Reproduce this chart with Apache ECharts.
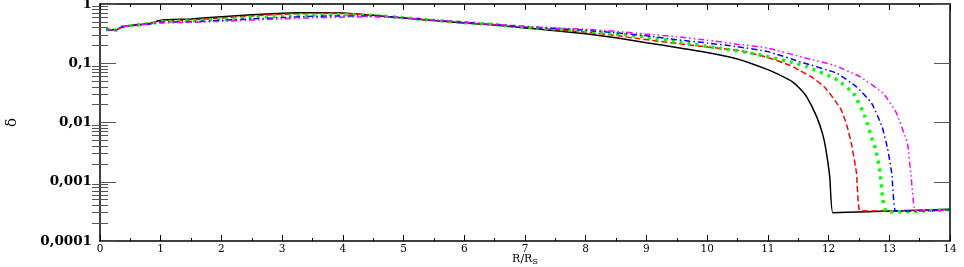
<!DOCTYPE html>
<html>
<head>
<meta charset="utf-8">
<script src="https://cdn.jsdelivr.net/npm/echarts@6/dist/echarts.min.js"></script>
<style>
  html, body { margin: 0; padding: 0; background: #fff; }
  #chart { width: 964px; height: 267px; }
</style>
</head>
<body>
<div id="chart"></div>
<script>
// delta vs R/Rs, five curves, log y axis
const blackX = [0.1,0.27,0.36,0.5,0.82,1.0,1.5,2,2.5,3,3.5,4,4.5,5,5.5,6,6.5,7,7.5,8,8.5,9,9.5,10,10.5,11,11.2,11.4,11.53,11.64,11.8,11.9,11.95,12.02,12.07,12.3,13,14];
const blackY = [0.37,0.365,0.41,0.43,0.47,0.53,0.56,0.61,0.66,0.70,0.715,0.705,0.645,0.58,0.525,0.48,0.44,0.395,0.355,0.315,0.27,0.222,0.185,0.152,0.118,0.078,0.063,0.049,0.037,0.027,0.0128,0.0065,0.0038,0.0012,0.0003,0.000305,0.00032,0.000345];

const redX = [0.1,0.27,0.36,0.5,0.82,1.0,1.5,2,2.5,3,3.5,4,4.5,5,5.5,6,6.5,7,7.5,8,8.5,8.89,9.72,10.54,11.0,11.37,11.53,11.75,11.95,12.2,12.3,12.38,12.46,12.51,12.7,13,14];
const redY = [0.37,0.365,0.41,0.43,0.47,0.51,0.54,0.58,0.63,0.67,0.69,0.69,0.645,0.58,0.525,0.48,0.445,0.40,0.37,0.335,0.295,0.258,0.203,0.163,0.125,0.092,0.075,0.056,0.038,0.017,0.009,0.0042,0.0014,0.00033,0.00032,0.00032,0.00034];

const greenX = [0.1,0.27,0.36,0.5,0.82,1.0,1.5,2,2.5,3,3.5,4,4.5,5,5.5,6,6.5,7,7.5,8,8.5,8.95,9.55,10.21,10.82,11.42,11.64,12.12,12.41,12.6,12.71,12.78,12.85,12.89,12.95,13.1,13.5,14];
const greenY = [0.37,0.365,0.41,0.43,0.47,0.50,0.52,0.55,0.59,0.62,0.65,0.66,0.64,0.585,0.53,0.485,0.45,0.405,0.38,0.35,0.315,0.281,0.226,0.179,0.142,0.102,0.0875,0.054,0.031,0.0125,0.0055,0.0034,0.0014,0.00053,0.00031,0.00031,0.00032,0.00034];

const blueX = [0.1,0.27,0.36,0.5,0.82,1.0,1.5,2,2.5,3,3.5,4,4.5,5,5.5,6,6.5,7,7.5,8,8.5,9,9.5,10,10.5,11,11.58,12.13,12.46,12.71,12.88,12.97,13.04,13.1,13.25,13.5,14];
const blueY = [0.37,0.365,0.41,0.43,0.46,0.49,0.50,0.53,0.56,0.59,0.62,0.63,0.63,0.585,0.53,0.49,0.45,0.41,0.385,0.36,0.325,0.29,0.25,0.22,0.19,0.157,0.102,0.068,0.040,0.021,0.0085,0.0037,0.0014,0.00032,0.00032,0.00032,0.00034];

const magentaX = [0.1,0.27,0.36,0.5,0.82,1.0,1.5,2,2.5,3,3.5,4,4.5,5,5.5,6,6.5,7,7.5,8,8.5,9,9.5,10,10.5,11,11.64,12.08,12.52,12.9,13.12,13.26,13.3,13.36,13.42,13.55,13.7,14];
const magentaY = [0.37,0.365,0.41,0.43,0.46,0.48,0.49,0.51,0.535,0.56,0.585,0.60,0.61,0.585,0.535,0.495,0.455,0.42,0.395,0.375,0.345,0.31,0.28,0.245,0.21,0.18,0.121,0.093,0.059,0.031,0.0143,0.0058,0.0045,0.0012,0.00033,0.00032,0.00032,0.00034];

const yMajor = [0.0001, 0.001, 0.01, 0.1, 1];
const yMinor = [];
for (let d = 0; d < 4; d++) {
    for (let k = 2; k <= 9; k++) yMinor.push(+(k * yMajor[d]).toPrecision(2));
}

function pairs(xs, ys) {
    return xs.map((x, i) => [x, ys[i]]);
}

function initChart() {
    const chart = echarts.init(document.getElementById('chart'));
    const serif = 'DejaVu Serif';

    const yBase = {
        type: 'log',
        min: 0.0001,
        max: 1,
        logBase: 10,
        splitLine: { show: false },
        axisLine: { show: false }
    };

    function lineSeries(name, xs, ys, color, width, dash) {
        return {
            name: name,
            type: 'line',
            data: pairs(xs, ys),
            showSymbol: false,
            smooth: 0.15,
            lineStyle: { color: color, width: width, type: dash },
            z: 3
        };
    }

    const option = {
        animation: false,
        grid: { left: 100, right: 14, top: 4, bottom: 26, outerBoundsMode: 'none', containLabel: false },
        xAxis: [
            {
                type: 'value',
                min: 0,
                max: 14,
                interval: 1,
                name: '{a|R/R}{b|S}',
                nameLocation: 'middle',
                nameGap: 11,
                nameMoveOverlap: false,
                nameTextStyle: {
                    verticalAlign: 'top',
                    rich: {
                        a: { fontFamily: serif, fontSize: 11, color: '#000' },
                        b: { fontFamily: serif, fontSize: 8, color: '#000', padding: [6, 0, 0, 0] }
                    }
                },
                axisLine: { show: true, onZero: false, lineStyle: { color: '#000', width: 1.5 } },
                axisTick: { inside: true, length: 6, lineStyle: { color: '#000', width: 1 } },
                minorTick: { show: true, splitNumber: 2, length: 3, lineStyle: { color: '#000', width: 1 } },
                axisLabel: { fontFamily: serif, fontSize: 10.5, color: '#000', margin: 3 },
                splitLine: { show: false }
            },
            {
                type: 'value',
                position: 'top',
                min: 0,
                max: 14,
                interval: 1,
                axisLine: { show: true, onZero: false, lineStyle: { color: '#000', width: 1.5 } },
                axisTick: { inside: true, length: 6, lineStyle: { color: '#000', width: 1 } },
                minorTick: { show: true, splitNumber: 2, length: 3, lineStyle: { color: '#000', width: 1 } },
                axisLabel: { show: false },
                splitLine: { show: false }
            }
        ],
        yAxis: [
            Object.assign({}, yBase, {
                position: 'left',
                name: 'δ',
                nameLocation: 'middle',
                nameGap: 80,
                nameMoveOverlap: false,
                nameTextStyle: { fontFamily: serif, fontSize: 15, color: '#000' },
                axisLine: { show: true, onZero: false, lineStyle: { color: '#000', width: 1.5 } },
                axisTick: { inside: true, length: 16, customValues: yMajor, lineStyle: { color: '#555', width: 1 } },
                axisLabel: {
                    fontFamily: serif, fontSize: 13.5, fontWeight: 'bold', color: '#000', margin: 8,
                    customValues: yMajor,
                    formatter: v => String(v).replace('.', ',')
                }
            }),
            Object.assign({}, yBase, {
                position: 'left',
                axisTick: { inside: true, length: 8, customValues: yMinor, lineStyle: { color: '#555', width: 1 } },
                axisLabel: { show: false }
            }),
            Object.assign({}, yBase, {
                position: 'right',
                axisLine: { show: true, onZero: false, lineStyle: { color: '#000', width: 1.5 } },
                axisTick: { inside: true, length: 16, customValues: yMajor, lineStyle: { color: '#555', width: 1 } },
                axisLabel: { show: false }
            }),
            Object.assign({}, yBase, {
                position: 'right',
                axisTick: { inside: true, length: 8, customValues: yMinor, lineStyle: { color: '#555', width: 1 } },
                axisLabel: { show: false }
            })
        ],
        series: [
            lineSeries('black', blackX, blackY, '#000000', 1.5, 'solid'),
            lineSeries('red', redX, redY, '#ff0000', 1.5, [6, 3]),
            lineSeries('green', greenX, greenY, '#00ff00', 3.5, [3, 5]),
            lineSeries('blue', blueX, blueY, '#0000ff', 1.5, [6, 3, 1.5, 3]),
            lineSeries('magenta', magentaX, magentaY, '#ff00ff', 1.5, [6, 3, 1.5, 3, 1.5, 3])
        ]
    };

    chart.setOption(option);
}

document.addEventListener('DOMContentLoaded', function () {
    if (typeof echarts === 'undefined') {
        console.error('ECharts not loaded');
        return;
    }
    initChart();
});
</script>
</body>
</html>
